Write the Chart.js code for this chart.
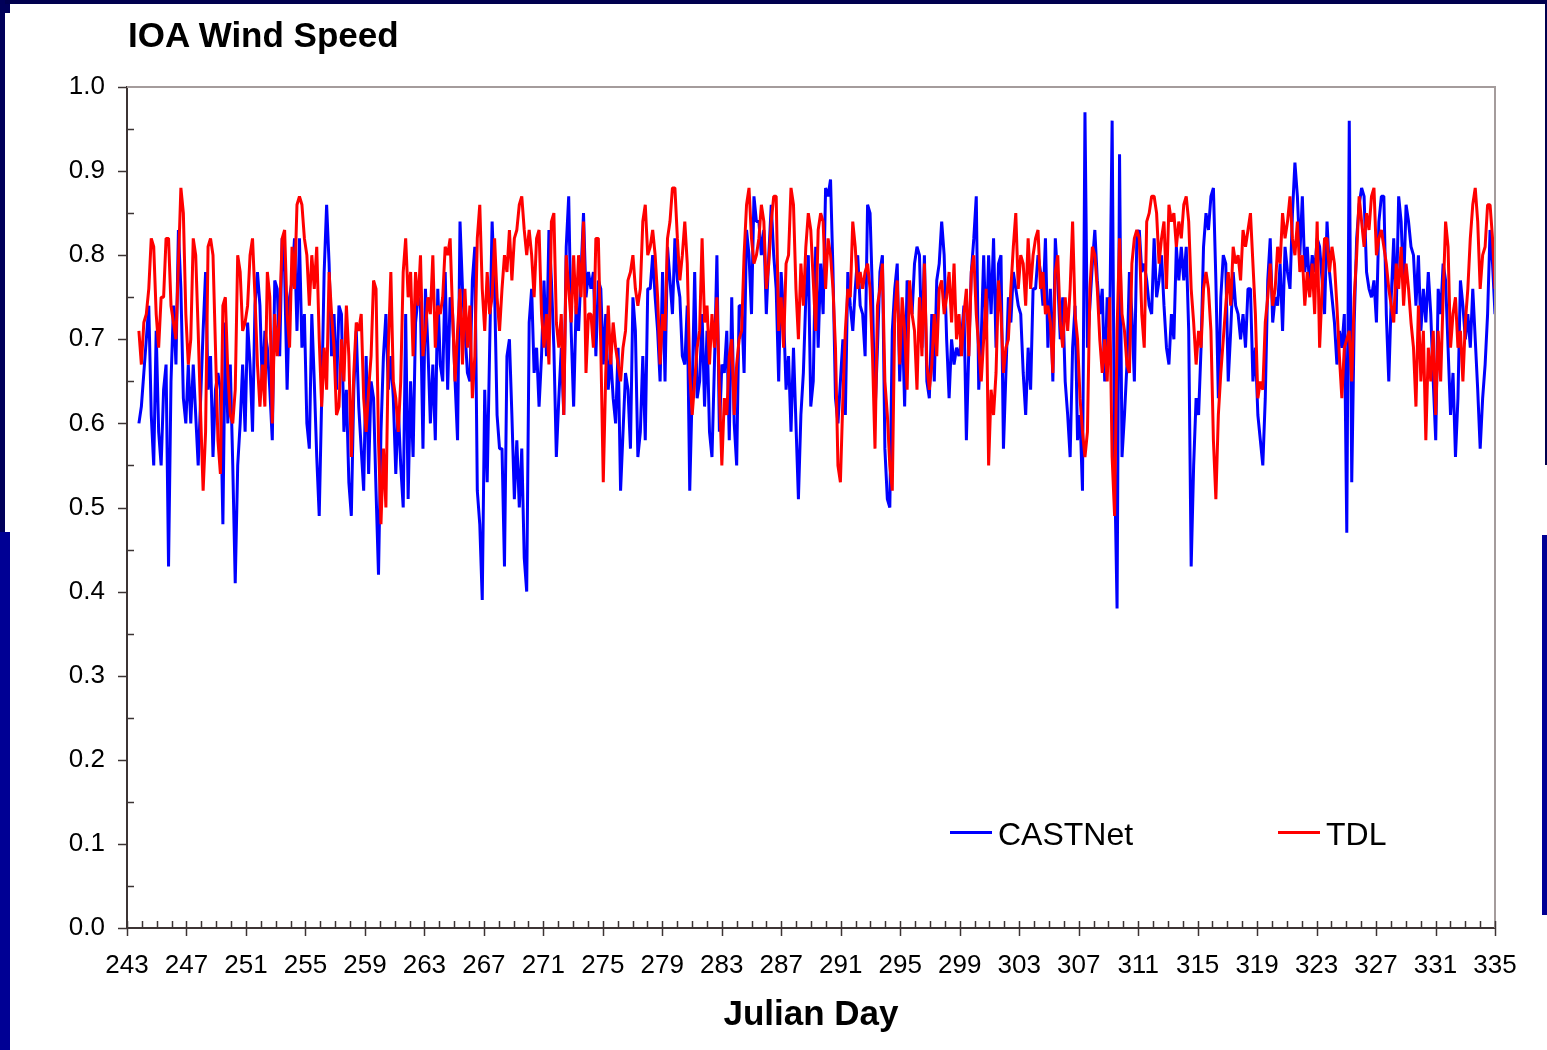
<!DOCTYPE html>
<html>
<head>
<meta charset="utf-8">
<title>IOA Wind Speed</title>
<script src="https://cdn.jsdelivr.net/npm/chart.js@4.4.1/dist/chart.umd.min.js"></script>
<style>
  html, body { margin: 0; padding: 0; background: #fff; }
  body { width: 1547px; height: 1050px; position: relative; overflow: hidden;
         font-family: "Liberation Sans", Arial, sans-serif; }
  .band { position: absolute; }
  #wrap { position: absolute; left: 0; top: 0; width: 1547px; height: 1050px; }
  #title { position: absolute; left: 128px; top: 17px; font-size: 35px; line-height: 35px;
           font-weight: bold; color: #000; }
  .legtxt { position: absolute; top: 818px; font-size: 32px; line-height: 32px; color: #000; }
  .legline { position: absolute; top: 831px; height: 3px; width: 42px; }
</style>
</head>
<body>
<!-- slide frame -->
<div class="band" style="left:0;top:0;width:1547px;height:4px;background:#00004e"></div>
<div class="band" style="left:0;top:0;width:5px;height:535px;background:#00005a"></div>
<div class="band" style="left:5px;top:4px;width:5px;height:9px;background:#00005a"></div>
<div class="band" style="left:0;top:532px;width:10px;height:518px;background:#000094"></div>
<div class="band" style="left:1545px;top:0;width:2px;height:465px;background:#00004e"></div>
<div class="band" style="left:1542px;top:535px;width:5px;height:380px;background:#000094"></div>

<div id="wrap"><canvas id="chart" width="1547" height="1050"></canvas></div>
<div id="title">IOA Wind Speed</div>
<div class="legline" style="left:950px;background:#0000ff"></div>
<div class="legtxt" style="left:998px">CASTNet</div>
<div class="legline" style="left:1278px;background:#ff0000"></div>
<div class="legtxt" style="left:1326px">TDL</div>

<script>
// julian day range and sample spacing (values are evenly spaced between first/last)
const X_MIN = 243
const X_MAX = 335
const DAY_FIRST = 243.8
const DAY_LAST = 335
const Y_TICKS = [0, 0.1, 0.2, 0.3, 0.4, 0.5, 0.6, 0.7, 0.8, 0.9, 1.0]

// CASTNet IOA (~6 samples per day)
const CASTNET = [
  0.60,0.62,0.66,0.70,0.74,0.61,0.55,0.71,0.59,0.55, 0.64,0.67,0.43,0.65,0.74,0.67,0.83,0.76,0.63,0.60,
  0.67,0.60,0.67,0.61,0.55,0.63,0.71,0.78,0.64,0.68, 0.56,0.64,0.66,0.64,0.48,0.72,0.60,0.67,0.55,0.41,
  0.55,0.60,0.67,0.59,0.72,0.67,0.59,0.74,0.78,0.74, 0.64,0.71,0.69,0.64,0.58,0.77,0.76,0.68,0.82,0.78,
  0.64,0.75,0.77,0.82,0.71,
  0.82,0.69,0.73,0.60,0.57,0.73,0.65,0.56,0.49,0.63, 0.78,0.86,0.79,0.68,0.73,0.64,0.74,0.73,0.59,0.64,
  0.53,0.49,0.64,0.71,0.62,0.57,0.52,0.68,0.54,0.65, 0.63,0.52,0.42,0.59,0.68,0.73,0.64,0.68,0.63,0.54,
  0.62,0.55,0.50,0.73,0.51,0.65,0.56,0.72,0.75,0.74, 0.57,0.76,0.69,0.60,0.67,0.58,0.76,0.67,0.65,0.78,
  0.64,0.75,0.73,0.65,0.58,0.84,0.76,0.71,0.66,
  0.65,0.77,0.81,0.52,0.48,0.39,0.64,0.53,0.69,0.84, 0.76,0.61,0.57,0.57,0.43,0.68,0.70,0.61,0.51,0.58,
  0.50,0.57,0.44,0.40,0.72,0.76,0.66,0.69,0.62,0.68, 0.77,0.68,0.83,0.77,0.69,0.56,0.63,0.69,0.61,0.81,
  0.87,0.71,0.62,0.74,0.71,0.78,0.85,0.75,0.78,0.76, 0.78,0.68,0.77,0.76,0.67,0.73,0.64,0.68,0.63,0.60,
  0.69,0.52,0.59,0.66,0.64,0.57,0.75,0.71,0.56,
  0.59,0.68,0.58,0.76,0.76,0.80,0.75,0.71,0.65,0.78, 0.65,0.81,0.77,0.73,0.82,0.77,0.75,0.68,0.67,0.74,
  0.52,0.64,0.78,0.63,0.65,0.73,0.62,0.71,0.59,0.56, 0.67,0.80,0.59,0.67,0.66,0.71,0.58,0.75,0.60,0.55,
  0.74,0.74,0.66,0.83,0.80,0.73,0.87,0.84,0.84,0.80, 0.83,0.73,0.80,0.86,0.80,0.76,0.65,0.78,0.73,0.64,
  0.68,0.59,0.69,0.60,0.51,0.61,0.66,0.75,0.80,0.62,
  0.65,0.81,0.69,0.79,0.73,0.88,0.87,0.89,0.78,0.63, 0.60,0.65,0.70,0.61,0.78,0.74,0.71,0.76,0.80,0.74,
  0.73,0.68,0.86,0.85,0.75,0.61,0.69,0.78,0.80,0.57, 0.51,0.50,0.71,0.76,0.79,0.65,0.73,0.62,0.77,0.76,
  0.73,0.79,0.81,0.80,0.69,0.80,0.65,0.63,0.73,0.65, 0.77,0.79,0.84,0.80,0.70,0.63,0.70,0.67,0.69,0.68,
  0.70,0.74,0.58,0.69,0.78,0.82,0.87,0.64,0.70,
  0.80,0.70,0.80,0.73,0.82,0.69,0.79,0.80,0.57,0.66, 0.75,0.72,0.78,0.76,0.74,0.73,0.66,0.61,0.69,0.64,
  0.76,0.76,0.80,0.78,0.74,0.82,0.69,0.76,0.65,0.82, 0.77,0.70,0.75,0.65,0.61,0.56,0.69,0.74,0.58,0.61,
  0.52,0.97,0.69,0.74,0.79,0.83,0.77,0.73,0.76,0.65, 0.75,0.71,0.96,0.55,0.38,0.92,0.56,0.61,0.67,0.78,
  0.73,0.65,0.82,0.83,0.78,0.79,0.77,0.74,0.73,
  0.82,0.75,0.77,0.80,0.74,0.69,0.67,0.73,0.70,0.81, 0.77,0.81,0.77,0.81,0.71,0.43,0.55,0.63,0.61,0.69,
  0.81,0.85,0.83,0.87,0.88,0.77,0.63,0.75,0.80,0.79, 0.65,0.71,0.78,0.74,0.73,0.70,0.73,0.69,0.76,0.76,
  0.65,0.69,0.61,0.58,0.55,0.63,0.77,0.82,0.72,0.75, 0.74,0.79,0.71,0.81,0.78,0.76,0.85,0.91,0.87,0.80,
  0.87,0.78,0.81,0.76,0.80,0.78,0.82,0.81,0.77,0.73,
  0.84,0.78,0.75,0.72,0.67,0.71,0.69,0.73,0.47,0.96, 0.53,0.72,0.82,0.86,0.88,0.87,0.78,0.76,0.75,0.77,
  0.72,0.84,0.87,0.87,0.73,0.65,0.75,0.82,0.73,0.87, 0.84,0.76,0.86,0.84,0.81,0.80,0.74,0.80,0.71,0.76,
  0.72,0.78,0.73,0.65,0.58,0.76,0.73,0.79,0.77,0.69, 0.61,0.66,0.56,0.63,0.77,0.74,0.70,0.73,0.69,0.76,
  0.70,0.64,0.57,0.63,0.67,0.73,0.83,0.79,0.73
]

// TDL IOA, same sampling
const TDL = [
  0.71,0.67,0.72,0.73,0.76,0.82,0.81,0.73,0.69,0.75, 0.75,0.82,0.82,0.74,0.72,0.70,0.79,0.88,0.85,0.73,
  0.67,0.70,0.82,0.80,0.71,0.61,0.52,0.59,0.81,0.82, 0.80,0.69,0.58,0.54,0.74,0.75,0.66,0.61,0.60,0.64,
  0.80,0.78,0.71,0.72,0.74,0.80,0.82,0.75,0.67,0.62, 0.67,0.62,0.78,0.75,0.60,0.73,0.68,0.73,0.82,0.83,
  0.73,0.69,0.81,0.76,0.86,
  0.87,0.86,0.82,0.80,0.74,0.80,0.76,0.81,0.70,0.62, 0.69,0.64,0.78,0.73,0.69,0.61,0.62,0.70,0.65,0.74,
  0.68,0.56,0.66,0.72,0.71,0.73,0.63,0.59,0.64,0.68, 0.77,0.76,0.58,0.48,0.57,0.50,0.69,0.78,0.65,0.63,
  0.59,0.65,0.78,0.82,0.75,0.78,0.68,0.78,0.74,0.80, 0.68,0.71,0.75,0.73,0.80,0.69,0.74,0.73,0.75,0.81,
  0.80,0.82,0.73,0.65,0.71,0.76,0.67,0.76,0.69,
  0.74,0.63,0.68,0.82,0.86,0.76,0.71,0.78,0.73,0.75, 0.82,0.75,0.71,0.76,0.80,0.78,0.83,0.77,0.82,0.83,
  0.86,0.87,0.83,0.80,0.83,0.80,0.75,0.82,0.83,0.73, 0.69,0.73,0.67,0.84,0.85,0.72,0.69,0.73,0.61,0.80,
  0.76,0.72,0.80,0.73,0.80,0.75,0.84,0.66,0.73,0.73, 0.69,0.82,0.82,0.69,0.53,0.66,0.74,0.67,0.72,0.69,
  0.67,0.65,0.69,0.71,0.77,0.78,0.80,0.76,0.74,
  0.76,0.84,0.86,0.80,0.81,0.83,0.80,0.75,0.67,0.73, 0.71,0.82,0.84,0.88,0.88,0.82,0.77,0.80,0.84,0.79,
  0.66,0.61,0.65,0.69,0.71,0.82,0.72,0.74,0.67,0.73, 0.69,0.75,0.64,0.55,0.63,0.61,0.68,0.70,0.61,0.67,
  0.70,0.71,0.80,0.86,0.88,0.82,0.79,0.80,0.82,0.86, 0.84,0.76,0.79,0.84,0.87,0.87,0.71,0.75,0.69,0.79,
  0.80,0.88,0.86,0.76,0.70,0.79,0.74,0.81,0.85,0.83,
  0.77,0.71,0.83,0.85,0.84,0.76,0.82,0.80,0.76,0.69, 0.55,0.53,0.63,0.71,0.76,0.75,0.84,0.81,0.76,0.78,
  0.76,0.78,0.79,0.76,0.68,0.57,0.74,0.76,0.79,0.65, 0.61,0.55,0.52,0.73,0.77,0.67,0.75,0.71,0.64,0.77,
  0.73,0.71,0.64,0.75,0.68,0.79,0.67,0.64,0.67,0.73, 0.68,0.76,0.77,0.73,0.75,0.78,0.72,0.79,0.70,0.73,
  0.68,0.73,0.76,0.68,0.78,0.80,0.73,0.69,0.65,
  0.70,0.76,0.55,0.64,0.61,0.66,0.77,0.73,0.66,0.69, 0.70,0.76,0.81,0.85,0.76,0.80,0.79,0.74,0.82,0.76,
  0.80,0.82,0.83,0.76,0.78,0.73,0.74,0.72,0.66,0.78, 0.80,0.72,0.69,0.75,0.71,0.76,0.84,0.73,0.70,0.63,
  0.59,0.56,0.59,0.76,0.81,0.80,0.76,0.70,0.66,0.70, 0.65,0.75,0.56,0.49,0.71,0.82,0.73,0.71,0.67,0.66,
  0.79,0.82,0.83,0.82,0.73,0.69,0.84,0.85,0.87,
  0.87,0.85,0.79,0.82,0.84,0.76,0.86,0.84,0.85,0.81, 0.84,0.82,0.86,0.87,0.84,0.76,0.72,0.67,0.71,0.69,
  0.76,0.78,0.76,0.71,0.58,0.51,0.61,0.66,0.70,0.74, 0.78,0.74,0.81,0.79,0.80,0.77,0.83,0.81,0.83,0.85,
  0.79,0.73,0.63,0.65,0.64,0.72,0.75,0.79,0.74,0.76, 0.81,0.79,0.85,0.82,0.84,0.87,0.82,0.80,0.84,0.78,
  0.80,0.74,0.78,0.75,0.79,0.73,0.84,0.69,0.76,0.82,
  0.82,0.78,0.81,0.79,0.74,0.68,0.63,0.69,0.70,0.71, 0.65,0.75,0.80,0.87,0.84,0.81,0.85,0.83,0.87,0.88,
  0.80,0.82,0.83,0.81,0.79,0.76,0.74,0.72,0.79,0.76, 0.81,0.74,0.79,0.76,0.72,0.69,0.62,0.74,0.65,0.71,
  0.58,0.69,0.65,0.71,0.61,0.71,0.65,0.75,0.84,0.81, 0.69,0.73,0.75,0.69,0.71,0.65,0.72,0.76,0.82,0.86,
  0.88,0.84,0.76,0.80,0.81,0.86,0.86,0.82,0.76
]

const FONT = '"Liberation Sans", Arial, sans-serif'
const AXIS_COLOR = '#3c3434'

// pair each value with its day, samples evenly spread from DAY_FIRST to DAY_LAST
function toPoints(values) {
  const step = (DAY_LAST - DAY_FIRST) / (values.length - 1)
  return values.map((v, i) => ({ x: DAY_FIRST + i * step, y: v }))
}

// excel style tick marks: minor ticks inside, major ticks outside / crossing
const axisDecor = {
  id: 'axisDecor',
  afterDraw(chart) {
    const { ctx, chartArea: a, scales: { x, y } } = chart
    ctx.save()
    // light frame on top and right of the plot
    ctx.strokeStyle = '#a49c9c'
    ctx.lineWidth = 2
    ctx.beginPath()
    ctx.moveTo(a.left, a.top)
    ctx.lineTo(a.right, a.top)
    ctx.lineTo(a.right, a.bottom)
    ctx.stroke()

    ctx.strokeStyle = AXIS_COLOR
    ctx.lineWidth = 1.5
    ctx.beginPath()
    for (let d = X_MIN; d <= X_MAX; d++) {
      const px = Math.round(x.getPixelForValue(d)) + 0.5
      const major = (d - X_MIN) % 4 === 0
      ctx.moveTo(px, a.bottom - 7)
      ctx.lineTo(px, a.bottom + (major ? 8 : 0))
    }
    for (let i = 0; i < Y_TICKS.length; i++) {
      const py = Math.round(y.getPixelForValue(Y_TICKS[i])) + 0.5
      ctx.moveTo(a.left - 9, py)
      ctx.lineTo(a.left, py)
      if (i < Y_TICKS.length - 1) {
        const pm = Math.round(y.getPixelForValue(Y_TICKS[i] + 0.05)) + 0.5
        ctx.moveTo(a.left, pm)
        ctx.lineTo(a.left + 7, pm)
      }
    }
    ctx.stroke()
    ctx.restore()
  }
}

Chart.defaults.font.family = FONT
Chart.defaults.color = '#000'

new Chart(document.getElementById('chart'), {
  type: 'line',
  data: {
    datasets: [
      {
        label: 'CASTNet',
        data: toPoints(CASTNET),
        borderColor: '#0000ff',
        borderWidth: 3,
        pointRadius: 0,
        borderJoinStyle: 'bevel',
        tension: 0,
        order: 2
      },
      {
        label: 'TDL',
        data: toPoints(TDL),
        borderColor: '#ff0000',
        borderWidth: 3,
        pointRadius: 0,
        borderJoinStyle: 'bevel',
        tension: 0,
        order: 1
      }
    ]
  },
  options: {
    responsive: false,
    animation: false,
    layout: { padding: { top: 87, right: 52, left: 0, bottom: 0 } },
    plugins: { legend: { display: false }, tooltip: { enabled: false } },
    scales: {
      x: {
        type: 'linear',
        min: X_MIN,
        max: X_MAX,
        afterFit: (s) => { s.height = 122 },
        afterBuildTicks: (s) => {
          s.ticks = []
          for (let d = X_MIN; d <= X_MAX; d += 4) s.ticks.push({ value: d })
        },
        ticks: { font: { size: 26 }, padding: 22, maxRotation: 0, autoSkip: false,
                 callback: (v) => String(v) },
        grid: { display: false, drawTicks: false },
        border: { display: true, color: AXIS_COLOR, width: 2 },
        title: { display: true, text: 'Julian Day', font: { size: 35, weight: 'bold' },
                 padding: { top: 0, bottom: 14 } }
      },
      y: {
        min: 0,
        max: 1,
        afterFit: (s) => { s.width = 127 },
        afterBuildTicks: (s) => { s.ticks = Y_TICKS.map((v) => ({ value: v })) },
        ticks: { font: { size: 26 }, padding: 22, callback: (v) => v.toFixed(1) },
        grid: { display: false, drawTicks: false },
        border: { display: true, color: AXIS_COLOR, width: 2 }
      }
    }
  },
  plugins: [axisDecor]
})
</script>
</body>
</html>
